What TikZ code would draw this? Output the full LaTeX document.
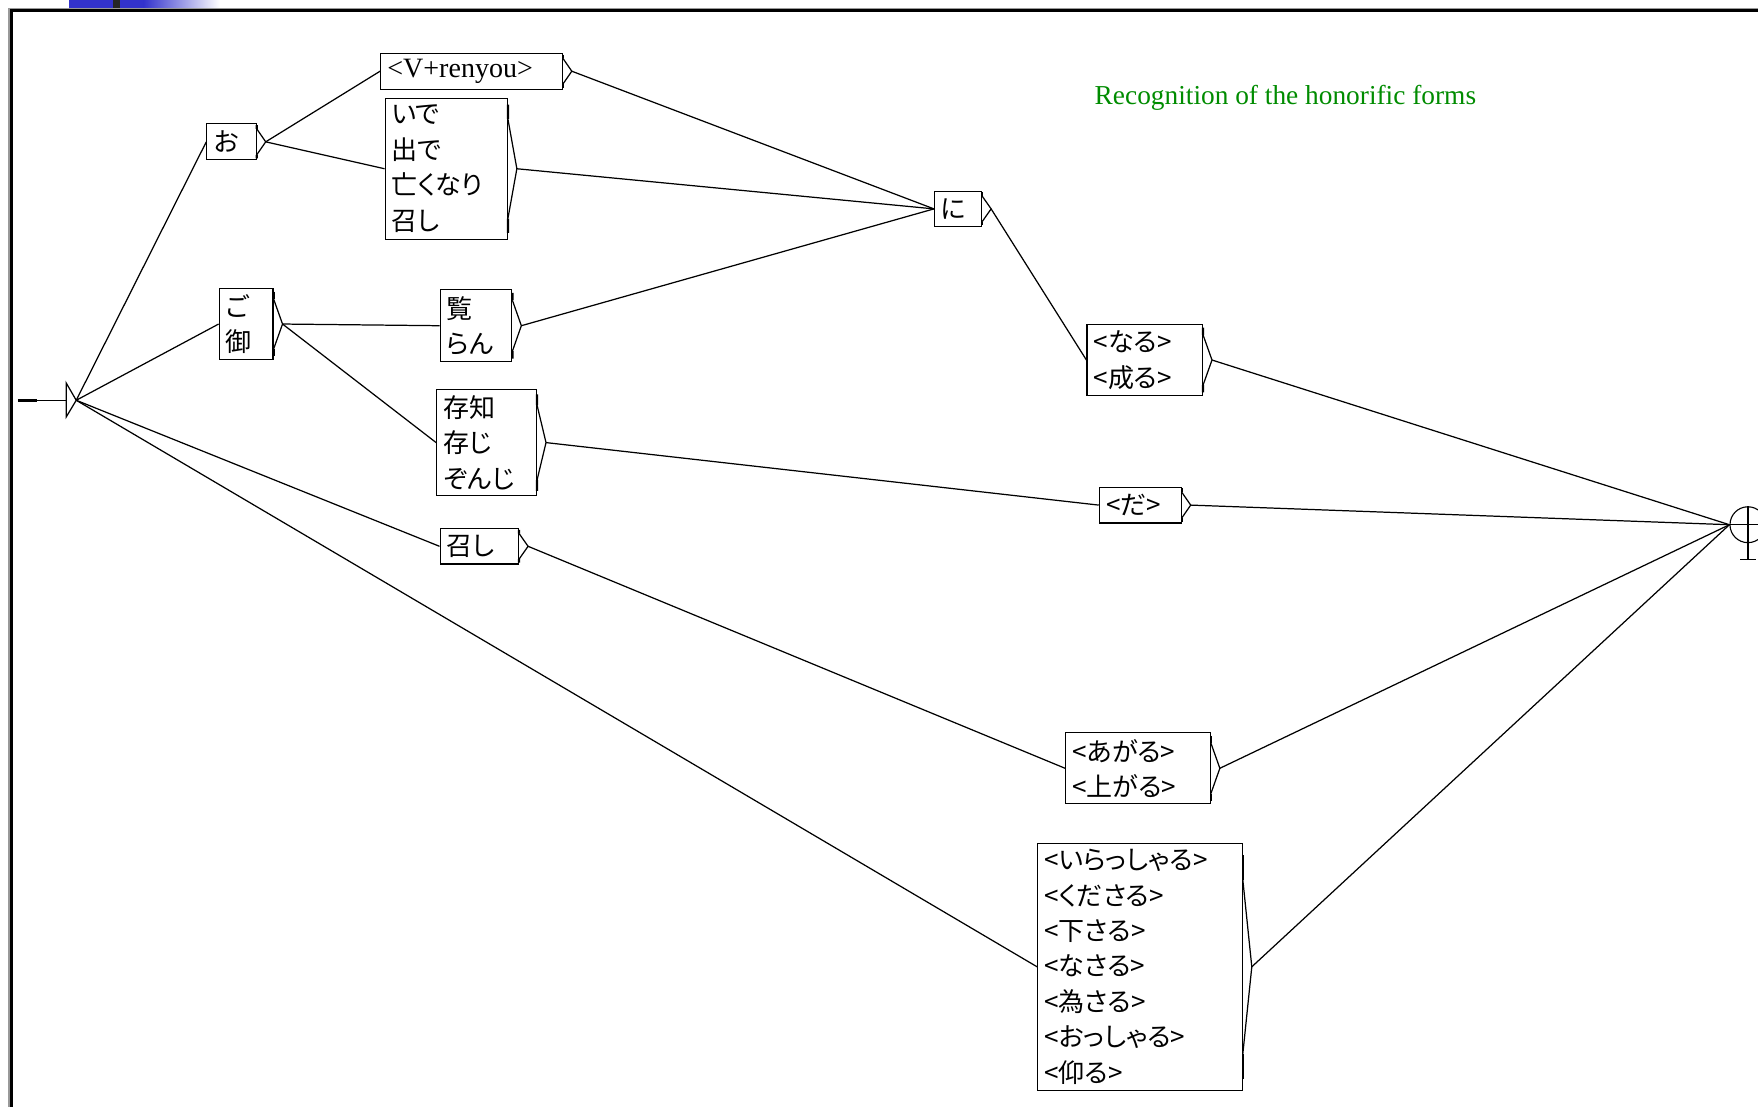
\documentclass[tikz,border=0pt]{standalone}
\usepackage{fontspec}
\setmainfont{Liberation Serif}
\newfontfamily\jp[RawFeature=+palt]{Noto Sans CJK JP}
\usetikzlibrary{calc,positioning}
\definecolor{titlegreen}{RGB}{0,140,0}
\definecolor{barblue}{RGB}{51,51,204}

\tikzset{
  grfbox/.style={draw=black,line width=0.5pt,anchor=north west,inner xsep=3pt,inner ysep=0pt,
    align=left,font=\jp\fontsize{11.6}{15.8}\selectfont},
  link/.style={line width=0.55pt}
}
% right hand tail of a box
\newcommand\boxtail[1]{%
  \coordinate (#1-t) at ([xshift=4pt]#1.east);
  \draw[link] ($(#1.north east)!0.15!(#1.south east)$) -- (#1-t) -- ($(#1.north east)!0.85!(#1.south east)$);
  \draw[line width=1pt] ($(#1.north east)!0.05!(#1.south east)$) -- ($(#1.north east)!0.15!(#1.south east)$);
  \draw[line width=1pt] ($(#1.north east)!0.85!(#1.south east)$) -- ($(#1.north east)!0.95!(#1.south east)$);
}

\begin{document}
\begin{tikzpicture}[x=0.5pt,y=-0.5pt]
\clip (0,0) rectangle (1568,987);
\fill[white] (0,0) rectangle (1568,987);
% window frame
\fill[barblue] (61.5,0) rectangle (128,8);
\shade[left color=barblue,right color=white] (128,0) rectangle (196,8);
\fill[black!85] (101,0) rectangle (107,8);
\draw[black!40,line width=0.5pt] (8,987) -- (8,8) -- (1568,8);
\draw[line width=1.2pt] (10,987) -- (10,9.5) -- (1568,9.5);
\node[text=titlegreen,font=\fontsize{12.2}{14}\selectfont,anchor=base west,inner sep=0pt] (title) at (976,93) {Recognition of the honorific forms};
% initial and final states
\coordinate (init) at (68,357);
\draw[link] (16,357) -- (59,357);
\draw[line width=1.2pt] (16,357) -- (33,357);
\draw[link] (59,341.5) -- (init) -- (59,372) -- cycle;
\node[circle,draw,line width=0.5pt,minimum size=16pt,inner sep=0pt] (fin) at (1559,468) {};
\draw[link] (fin.west) -- (fin.east);
\draw[link] (fin.north) -- (1559,499);
\draw[link] (1552,499) -- (1566,499);
% boxes
\node[grfbox,text width=16pt,minimum height=16pt] (o) at (184,110) {お};
\node[grfbox,text width=75pt,minimum height=16pt,font=\fontsize{12.5}{15.8}\selectfont] (renyou) at (339,47) {<V+renyou>};
\node[grfbox,text width=48.5pt,minimum height=63pt] (ide) at (343,87) {いで\\出で\\亡くなり\\召し};
\node[grfbox,text width=18pt,minimum height=31.5pt] (go) at (195,257) {ご\\御};
\node[grfbox,text width=26pt,minimum height=32pt] (ran) at (392,258) {覧\\らん};
\node[grfbox,text width=38.5pt,minimum height=47.25pt] (zonji) at (389,347) {存知\\存じ\\ぞんじ};
\node[grfbox,text width=29pt,minimum height=15.75pt] (meshi) at (392,471) {召し};
\node[grfbox,text width=15pt,minimum height=15.8pt] (ni) at (833,170) {に};
\node[grfbox,text width=45.5pt,minimum height=31.6pt] (naru) at (969,289) {<なる>\\<成る>};
\node[grfbox,text width=30.5pt,minimum height=16pt] (da) at (980,434) {<だ>};
\node[grfbox,text width=58.5pt,minimum height=31.75pt] (agaru) at (950,653) {<あがる>\\<上がる>};
\node[grfbox,text width=85.25pt,minimum height=110.2pt] (irassharu) at (925,751.6) {<いらっしゃる>\\<くださる>\\<下さる>\\<なさる>\\<為さる>\\<おっしゃる>\\<仰る>};
\foreach \b in {o,renyou,ide,go,ran,zonji,meshi,ni,naru,da,agaru,irassharu}
  {\boxtail{\b}}
% transitions
\draw[link] (init) to (o.west);
\draw[link] (init) to (go.west);
\draw[link] (init) to (meshi.west);
\draw[link] (init) to (irassharu.west);
\draw[link] (o-t) to (renyou.west);
\draw[link] (o-t) to (ide.west);
\draw[link] (renyou-t) to (ni.west);
\draw[link] (ide-t) to (ni.west);
\draw[link] (go-t) to (ran.west);
\draw[link] (go-t) to (zonji.west);
\draw[link] (ran-t) to (ni.west);
\draw[link] (zonji-t) to (da.west);
\draw[link] (meshi-t) to (agaru.west);
\draw[link] (ni-t) to (naru.west);
\draw[link] (naru-t) to (fin.west);
\draw[link] (da-t) to (fin.west);
\draw[link] (agaru-t) to (fin.west);
\draw[link] (irassharu-t) to (fin.west);
\end{tikzpicture}
\end{document}
